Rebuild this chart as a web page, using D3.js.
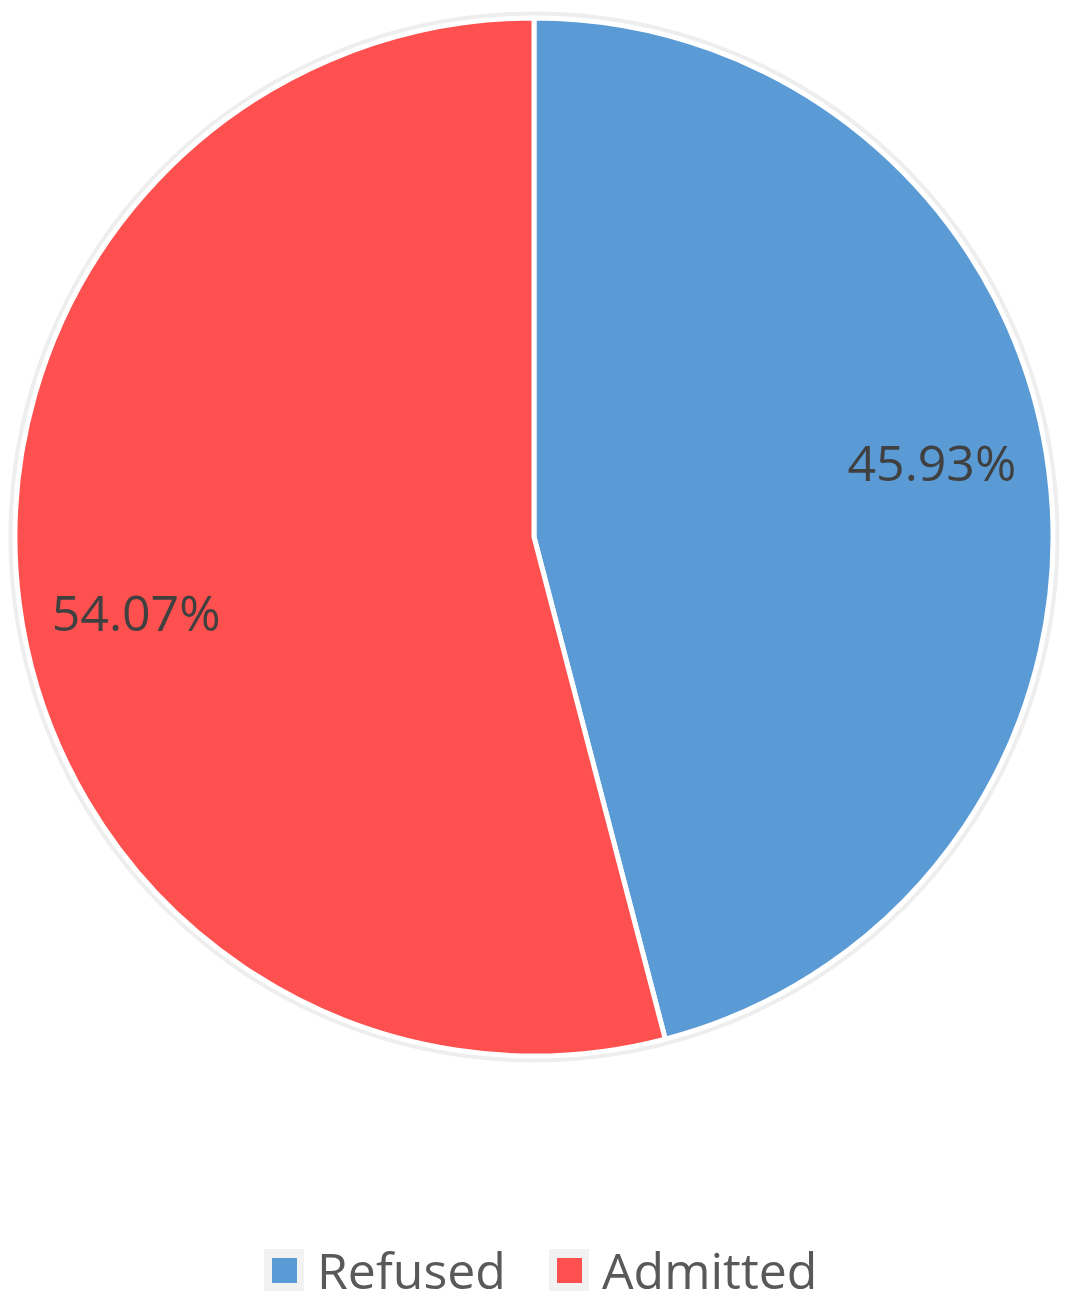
<!DOCTYPE html>
<html><head><meta charset="utf-8">
<script src="https://cdn.jsdelivr.net/npm/d3@7/dist/d3.min.js"></script>
<style>html,body{margin:0;padding:0;background:#fff;}svg{display:block;}</style>
</head><body>
<script>
const categories = ["Refused", "Admitted"];
const values = [45.93, 54.07];
const labels = ["45.93%", "54.07%"];
const colors = ["#5B9BD5", "#FF5050"];

const W = 1071, H = 1308;
const cx = 534, cy = 537, R = 519;
const svg = d3.select("body").append("svg").attr("width", W).attr("height", H);
const g = svg.append("g").attr("transform", `translate(${cx},${cy})`);

g.append("circle").attr("r", R + 3).attr("fill", "none").attr("stroke", "#eeeeee").attr("stroke-width", 7);

const pie = d3.pie().sort(null).value(d => d)(values);
const arc = d3.arc().innerRadius(0).outerRadius(R);
const labelR = R * 0.78;
const angOffset = -3.3 * Math.PI / 180;

g.selectAll("path.slice").data(pie).enter().append("path")
  .attr("class", "slice")
  .attr("d", arc)
  .attr("fill", (d, i) => colors[i])
  .attr("stroke", "#ffffff")
  .attr("stroke-width", 5)
  .attr("stroke-linejoin", "miter");

g.selectAll("text.lbl").data(pie).enter().append("text")
  .attr("class", "lbl")
  .attr("transform", d => {
    const a = (d.startAngle + d.endAngle) / 2 + angOffset;
    return `translate(${labelR * Math.sin(a)},${-labelR * Math.cos(a)})`;
  })
  .attr("text-anchor", "middle")
  .attr("dominant-baseline", "central")
  .attr("font-family", "'Open Sans', sans-serif")
  .attr("font-size", 50)
  .attr("fill", "#404040")
  .text((d, i) => labels[i]);

// legend
const legend = svg.append("g");
const legendX = [272, 557];
categories.forEach((c, i) => {
  const lg = legend.append("g").attr("transform", `translate(${legendX[i]},1270)`);
  lg.append("rect").attr("x", -8).attr("y", -21).attr("width", 40).attr("height", 42).attr("fill", "#f2f2f2");
  lg.append("rect").attr("x", 0).attr("y", -12).attr("width", 25).attr("height", 25).attr("fill", colors[i]);
  lg.append("text").attr("x", 45).attr("y", 0)
    .attr("dominant-baseline", "central")
    .attr("font-family", "'Open Sans', sans-serif")
    .attr("font-size", 50)
    .attr("fill", "#595959")
    .text(c);
});
</script>
</body></html>
